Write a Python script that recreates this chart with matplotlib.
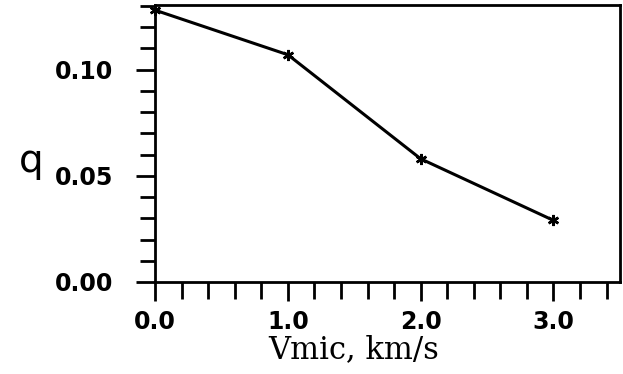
import matplotlib

matplotlib.use("Agg")
import matplotlib.pyplot as plt
from matplotlib.ticker import MultipleLocator

# microturbulence velocity vs q
vmic = [0.0, 1.0, 2.0, 3.0]
q = [0.128, 0.107, 0.058, 0.029]
xticks = [0.0, 1.0, 2.0, 3.0]
xtick_labels = ["0.0", "1.0", "2.0", "3.0"]
yticks = [0.00, 0.05, 0.10]
ytick_labels = ["0.00", "0.05", "0.10"]

fig = plt.figure(figsize=(6.23, 3.74), dpi=100)
ax = fig.add_axes([0.249, 0.246, 0.746, 0.741])

ax.plot(vmic, q, color="black", lw=2.2, marker=(6, 2, 0), ms=8, mew=1.8,
        clip_on=False)

ax.set_xlim(0.0, 3.5)
ax.set_ylim(0.0, 0.1305)
ax.set_xticks(xticks)
ax.set_xticklabels(xtick_labels)
ax.set_yticks(yticks)
ax.set_yticklabels(ytick_labels)
ax.xaxis.set_minor_locator(MultipleLocator(0.2))
ax.yaxis.set_minor_locator(MultipleLocator(0.01))

for s in ax.spines.values():
    s.set_linewidth(2.0)

ax.tick_params(axis="both", which="both", direction="out", width=2.0,
               top=False, right=False)
ax.tick_params(axis="x", which="major", length=14, pad=6)
ax.tick_params(axis="x", which="minor", length=12)
ax.tick_params(axis="y", which="major", length=14, pad=16)
ax.tick_params(axis="y", which="minor", length=11)
for lab in ax.get_xticklabels() + ax.get_yticklabels():
    lab.set_fontsize(17)
    lab.set_fontweight("bold")

fig.text(0.05, 0.57, "q", fontsize=28, ha="center", va="center")
fig.text(0.568, 0.064, "Vmic, km/s", fontsize=22, family="DejaVu Serif",
         ha="center", va="center")

fig.savefig("out.png", dpi=100)
